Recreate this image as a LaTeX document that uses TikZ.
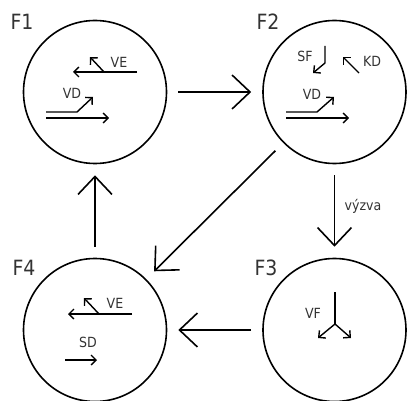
\documentclass[tikz,border=0pt]{standalone}
\usepackage{fontspec}
\setmainfont{DejaVu Sans Condensed}
\usetikzlibrary{arrows.meta}
\begin{document}
\begin{tikzpicture}[x=1pt,y=-1pt,
  state/.style={circle,draw,line width=1.6pt,minimum size=143pt,inner sep=0pt},
  flow/.style={line width=1.6pt,-{Straight Barb[length=18pt,width=34pt,line width=1.6pt]},shorten <=11pt,shorten >=11pt},
  sym/.style={line width=1.4pt},
  symarr/.style={line width=1.4pt,-{Straight Barb[length=5pt,width=10pt]}},
  big/.style={font=\fontsize{21}{21}\selectfont,text=black!80},
  lab/.style={font=\fontsize{14}{14}\selectfont,text=black!80}]
\useasboundingbox (0,0) rectangle (407,401);
\node[state] (f1) at (95,92) {};
\node[state] (f2) at (334.5,92) {};
\node[state] (f3) at (334.5,330) {};
\node[state] (f4) at (95,330) {};
\node[big] (l1) at (22,22) {F1};
\node[big] (l2) at (268,22) {F2};
\node[big] (l3) at (266,268) {F3};
\node[big] (l4) at (24,268) {F4};
\draw[flow] (f1) -- (f2);
\draw[flow] (f2) -- node[lab,right,xshift=6pt,pos=0.45] (vy) {výzva} (f3);
\draw[flow] (f3) -- (f4);
\draw[flow] (f4) -- (f1);
\draw[flow] (f2) -- (f4);
% F1
\draw[symarr] (137,72) -- (73,72);
\draw[symarr] (104,72) -- (90,57);
\node[lab] (ve1) at (119,62) {VE};
\node[lab] (vd1) at (72,93) {VD};
\draw[symarr] (46,112) -- (77,112) -- (93,97);
\draw[symarr] (46,118) -- (109,118);
% F2
\node[lab] (sf) at (305,56) {SF};
\draw[symarr] (325,46) -- (325,63) -- (313,73);
\draw[symarr] (359,73) -- (343,57);
\node[lab] (kd) at (372,61) {KD};
\node[lab] (vd2) at (312,94) {VD};
\draw[symarr] (286,112) -- (317,112) -- (334,97);
\draw[symarr] (286,118) -- (349,118);
% F4
\draw[symarr] (132,314) -- (68,314);
\draw[symarr] (99,314) -- (84,298);
\node[lab] (ve4) at (115,303) {VE};
\node[lab] (sd) at (88,342) {SD};
\draw[symarr] (65,360) -- (97,360);
% F3
\node[lab] (vf) at (313,313) {VF};
\draw[sym] (335,292) -- (335,324);
\draw[symarr] (335,324) -- (318,338);
\draw[symarr] (335,324) -- (351,338);
\end{tikzpicture}
\end{document}
